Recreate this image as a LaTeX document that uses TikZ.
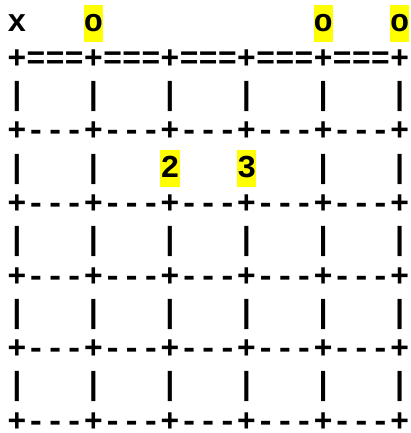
\documentclass[tikz,border=0pt]{standalone}
\usepackage{fontspec}
\newfontfamily\gridfont{Liberation Mono}
\definecolor{hly}{HTML}{FFFF00}
\newcommand\hlc[1]{{\setlength{\fboxsep}{0pt}\colorbox{hly}{\rule[-10pt]{0pt}{37pt}#1}}}
\begin{document}
\begin{tikzpicture}[x=1pt,y=1pt,
  row/.style={anchor=base west, inner sep=0pt, text=black,
    font=\gridfont\bfseries\fontsize{31.9pt}{36pt}\selectfont}]
\fill[white] (0,0) rectangle (410,433);
\useasboundingbox (0,0) rectangle (410,433);
\node[row] (r0)  at (7.1,401)   {x~~~\hlc{o}~~~~~~~~~~~\hlc{o}~~~\hlc{o}};
\node[row] (r1)  at (7.1,364.7) {+===+===+===+===+===+};
\node[row] (r2)  at (7.1,328.4) {|~~~|~~~|~~~|~~~|~~~|};
\node[row] (r3)  at (7.1,292.1) {+---+---+---+---+---+};
\node[row] (r4)  at (7.1,255.8) {|~~~|~~~\hlc{2}~~~\hlc{3}~~~|~~~|};
\node[row] (r5)  at (7.1,219.5) {+---+---+---+---+---+};
\node[row] (r6)  at (7.1,183.2) {|~~~|~~~|~~~|~~~|~~~|};
\node[row] (r7)  at (7.1,146.9) {+---+---+---+---+---+};
\node[row] (r8)  at (7.1,110.6) {|~~~|~~~|~~~|~~~|~~~|};
\node[row] (r9)  at (7.1,74.3)  {+---+---+---+---+---+};
\node[row] (r10) at (7.1,38)    {|~~~|~~~|~~~|~~~|~~~|};
\node[row] (r11) at (7.1,1.7)   {+---+---+---+---+---+};
\end{tikzpicture}
\end{document}
